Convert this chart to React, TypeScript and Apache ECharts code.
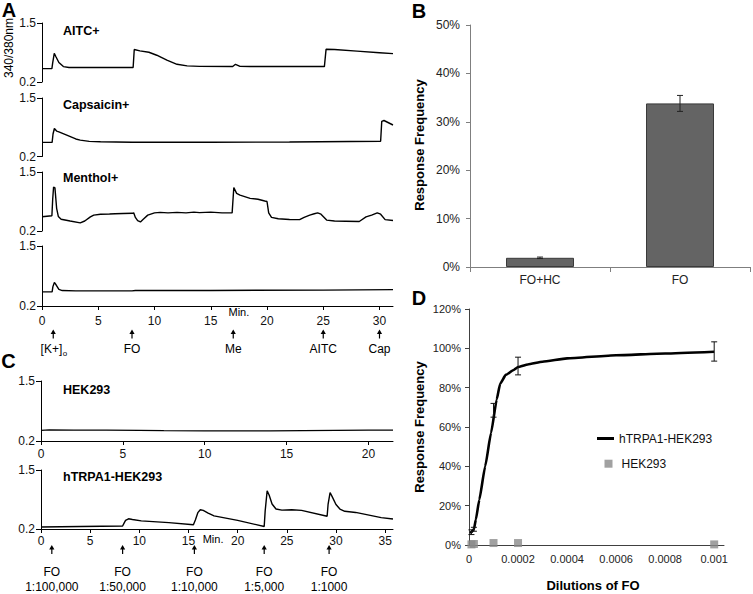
import React, { useEffect, useRef } from 'react';
import * as echarts from 'echarts';

const FONT = '"Liberation Sans", Arial, Helvetica, sans-serif';

// ---------------- Panel A: traces (time in min, 340/380 ratio) ----------------
const aitcTrace: number[][] = [
  [0, 0.495], [0.88, 0.495], [0.95, 0.62], [1.09, 0.83], [1.25, 0.75], [1.5, 0.63], [1.9, 0.54], [2.4, 0.52],
  [8.1, 0.52], [8.2, 0.915], [8.7, 0.885], [9.5, 0.855], [10.2, 0.79], [11.1, 0.68], [12.0, 0.59], [12.9, 0.555],
  [14.0, 0.545], [16.95, 0.54], [17.2, 0.59], [17.6, 0.545], [18.5, 0.54], [25.1, 0.54], [25.25, 0.92],
  [26.0, 0.915], [28.0, 0.88], [30.0, 0.845], [31.2, 0.825],
];
const capsaicinTrace: number[][] = [
  [0, 0.514], [0.9, 0.514], [0.98, 0.7], [1.1, 0.823], [1.3, 0.765], [1.5, 0.748], [2.2, 0.675], [3.0, 0.59],
  [3.4, 0.565], [4.2, 0.535], [5.2, 0.527], [8, 0.517], [15, 0.517], [22, 0.522], [30.1, 0.54], [30.2, 0.98],
  [30.4, 1.0], [31.2, 0.9],
];
const mentholTrace: number[][] = [
  [0, 0.513], [0.88, 0.535], [0.95, 0.9], [1.03, 1.17], [1.15, 1.15], [1.3, 0.7], [1.45, 0.52], [1.7, 0.46],
  [2.5, 0.42], [3.4, 0.38], [3.8, 0.42], [4.3, 0.51], [4.6, 0.55], [5.2, 0.57], [6.0, 0.575], [6.5, 0.58],
  [7.2, 0.585], [8.05, 0.59], [8.15, 0.6], [8.3, 0.5], [8.5, 0.43], [8.75, 0.4], [9.0, 0.46], [9.4, 0.55],
  [10.0, 0.6], [10.5, 0.61], [11.2, 0.6], [12, 0.61], [12.8, 0.6], [13.5, 0.615], [14, 0.605], [15, 0.615],
  [16, 0.6], [16.9, 0.6], [17.05, 1.16], [17.3, 1.03], [17.6, 0.99], [18.5, 0.92], [19.2, 0.9], [19.8, 0.86],
  [20.0, 0.85], [20.15, 0.6], [20.4, 0.5], [21.0, 0.47], [22.0, 0.455], [22.9, 0.45], [23.3, 0.5], [23.8, 0.55],
  [24.2, 0.58], [24.5, 0.6], [24.8, 0.57], [25.3, 0.44], [26, 0.42], [27, 0.415], [28.2, 0.41], [28.8, 0.51],
  [29.3, 0.55], [29.8, 0.6], [30.1, 0.57], [30.5, 0.45], [31.2, 0.43],
];
const nonResponderTrace: number[][] = [
  [0, 0.505], [0.9, 0.505], [0.97, 0.62], [1.1, 0.71], [1.25, 0.66], [1.5, 0.56], [1.8, 0.535], [3, 0.527],
  [8, 0.527], [8.3, 0.535], [15, 0.537], [25, 0.545], [31.2, 0.555],
];
const aTraceNames = ['AITC+', 'Capsaicin+', 'Menthol+'];
const aTimeTicks = [0, 5, 10, 15, 20, 25, 30];
const aStimTimes = [1, 8, 17, 25, 30];
const aStimLabels = ['[K+]', 'FO', 'Me', 'AITC', 'Cap'];

// ---------------- Panel C: traces ----------------
const hek293Trace: number[][] = [
  [0, 0.43], [0.5, 0.44], [2, 0.435], [4, 0.435], [6, 0.43], [7.5, 0.425], [10, 0.42], [12, 0.42],
  [14, 0.42], [16, 0.425], [18, 0.43], [20, 0.435], [21.5, 0.435],
];
const trpa1Trace: number[][] = [
  [0, 0.245], [4, 0.255], [8.3, 0.265], [8.45, 0.33], [8.6, 0.39], [8.9, 0.425], [9.3, 0.41], [10.2, 0.38],
  [13, 0.34], [15.5, 0.295], [15.7, 0.4], [15.95, 0.56], [16.2, 0.625], [16.5, 0.61], [17.0, 0.55], [17.6, 0.49],
  [20, 0.39], [22.7, 0.255], [22.8, 0.6], [23.0, 1.04], [23.2, 0.95], [23.5, 0.75], [23.9, 0.64], [24.5, 0.615],
  [25.5, 0.625], [26.5, 0.61], [29.1, 0.48], [29.2, 0.75], [29.4, 1.0], [29.6, 0.92], [30, 0.74], [30.4, 0.64],
  [30.9, 0.59], [32, 0.565], [34.6, 0.45], [35.8, 0.42],
];
const c1TimeTicks = [0, 5, 10, 15, 20];
const c2TimeTicks = [0, 5, 10, 15, 20, 25, 30, 35];
const cStimTimes = [1.1, 8.3, 15.6, 22.7, 29.3];
const cStimDilutions = ['1:100,000', '1:50,000', '1:10,000', '1:5,000', '1:1000'];

// ---------------- Panel B ----------------
const bCategories = ['FO+HC', 'FO'];
const bValues = [1.9, 33.8];
const bErrors = [0.15, 1.65];

// ---------------- Panel D ----------------
const dDilutions = [0.00001, 0.00002, 0.0001, 0.0002, 0.001];
const dTrpa1Mean = [6.5, 8, 68.5, 91, 98.4];
const dTrpa1Err = [1.2, 1, 3.5, 4.5, 4.9];
const dHekMean = [0.3, 0.5, 1, 1, 0.3];
const dCurveX = [0.000004, 0.00001, 0.00002, 0.000028, 0.000042, 0.000066, 0.00009, 0.000113, 0.000127,
  0.00015, 0.000182, 0.0002, 0.00024, 0.0003, 0.0004, 0.0006, 0.0008, 0.001];
const dCurveY = [6.1, 6.6, 8, 13, 23, 40, 57, 74, 82, 86.5, 89, 90.5, 91.8, 93.2, 94.9, 96.5, 97.4, 98.3];
const dXTicks = [0, 0.0002, 0.0004, 0.0006, 0.0008, 0.001];

const ratioY = (gridIndex: number) => ({
  type: 'value', gridIndex, min: 0.2, max: 1.5,
  axisLine: { show: true, lineStyle: { color: '#000', width: 1 } },
  axisTick: { show: true, length: 5, customValues: [0.2, 1.5], lineStyle: { color: '#000' } },
  axisLabel: { customValues: [0.2, 1.5], formatter: (v: number) => v.toFixed(1), fontSize: 12, fontFamily: FONT, color: '#111', margin: 6 },
  splitLine: { show: false },
});

const timeX = (gridIndex: number, max: number, ticks: number[], show: boolean, margin: number) => ({
  type: 'value', gridIndex, min: 0, max, show,
  axisLine: { show: true, onZero: false, lineStyle: { color: '#000', width: 1 } },
  axisTick: { show: true, length: 4, customValues: ticks, lineStyle: { color: '#000' } },
  axisLabel: { customValues: ticks, fontSize: 12, fontFamily: FONT, color: '#111', margin },
  splitLine: { show: false },
});

const traceSeries = (data: number[][], idx: number) => ({
  type: 'line', xAxisIndex: idx, yAxisIndex: idx, data, symbol: 'none', showSymbol: false,
  lineStyle: { color: '#000', width: 1.4 }, silent: true,
});

const errRender = (color: string, half: number) => (params: any, api: any) => {
  const x = api.value(0);
  const lo = api.coord([x, api.value(1)]);
  const hi = api.coord([x, api.value(2)]);
  const st = { stroke: color, lineWidth: 1 };
  return {
    type: 'group',
    children: [
      { type: 'line', shape: { x1: lo[0], y1: lo[1], x2: hi[0], y2: hi[1] }, style: st },
      { type: 'line', shape: { x1: lo[0] - half, y1: lo[1], x2: lo[0] + half, y2: lo[1] }, style: st },
      { type: 'line', shape: { x1: hi[0] - half, y1: hi[1], x2: hi[0] + half, y2: hi[1] }, style: st },
    ],
  };
};

export default function App() {
  const ref = useRef<HTMLDivElement>(null);
  useEffect(() => {
    if (!ref.current) return;
    const chart = echarts.init(ref.current, undefined, { renderer: 'svg' });
    const grayAxis = '#7f7f7f';
    const option: any = {
      animation: false,
      backgroundColor: '#fff',
      textStyle: { fontFamily: FONT },
      grid: [
        { left: 42, top: 23, width: 351, height: 59 },
        { left: 42, top: 98, width: 351, height: 58.5 },
        { left: 42, top: 172, width: 351, height: 59 },
        { left: 42, top: 246, width: 351, height: 60 },
        { left: 41, top: 381, width: 352, height: 60 },
        { left: 41, top: 470, width: 352, height: 59 },
        { left: 470, top: 25, width: 280, height: 242 },
        { left: 469, top: 309, width: 255, height: 236 },
      ],
      xAxis: [
        timeX(0, 31.2, aTimeTicks, false, 8),
        timeX(1, 31.2, aTimeTicks, false, 8),
        timeX(2, 31.2, aTimeTicks, false, 8),
        timeX(3, 31.2, aTimeTicks, true, 9),
        timeX(4, 21.5, c1TimeTicks, true, 7),
        timeX(5, 35.8, c2TimeTicks, true, 6),
        {
          type: 'category', gridIndex: 6, data: bCategories,
          axisLine: { lineStyle: { color: grayAxis } },
          axisTick: { show: true, alignWithLabel: false, length: 5, lineStyle: { color: grayAxis } },
          axisLabel: { fontSize: 12, fontFamily: FONT, color: '#222', margin: 7 },
        },
        {
          type: 'value', gridIndex: 7, min: 0, max: 0.00104,
          axisLine: { show: true, onZero: false, lineStyle: { color: '#404040' } },
          axisTick: { show: false },
          axisLabel: {
            customValues: dXTicks, fontSize: 11, fontFamily: FONT, color: '#222', margin: 8,
            formatter: (v: number) => (v === 0 ? '0' : String(Number(v.toPrecision(4)))),
          },
          splitLine: { show: false },
        },
      ],
      yAxis: [
        ratioY(0), ratioY(1), ratioY(2), ratioY(3), ratioY(4), ratioY(5),
        {
          type: 'value', gridIndex: 6, min: 0, max: 50, interval: 10,
          axisLine: { show: true, lineStyle: { color: grayAxis } },
          axisTick: { show: true, length: 4, lineStyle: { color: grayAxis } },
          axisLabel: { formatter: '{value}%', fontSize: 12, fontFamily: FONT, color: '#222', margin: 10 },
          splitLine: { show: false },
        },
        {
          type: 'value', gridIndex: 7, min: 0, max: 120, interval: 20,
          axisLine: { show: true, lineStyle: { color: '#404040' } },
          axisTick: { show: true, length: 4, lineStyle: { color: '#404040' } },
          axisLabel: { formatter: '{value}%', fontSize: 11, fontFamily: FONT, color: '#222', margin: 8 },
          splitLine: { show: false },
        },
      ],
      legend: [
        {
          data: [{ name: 'hTRPA1-HEK293', icon: 'rect' }], left: 597, top: 432.5, padding: 0, itemWidth: 17, itemHeight: 3,
          selectedMode: false, itemStyle: { color: '#000' },
          textStyle: { fontSize: 12, fontFamily: FONT, color: '#111' },
        },
        {
          data: [{ name: 'HEK293', icon: 'rect' }], left: 604.5, top: 457.7, padding: 0, itemWidth: 8, itemHeight: 8,
          selectedMode: false, textStyle: { fontSize: 12, fontFamily: FONT, color: '#111', padding: [0, 0, 0, 4] },
        },
      ],
      series: [
        traceSeries(aitcTrace, 0),
        traceSeries(capsaicinTrace, 1),
        traceSeries(mentholTrace, 2),
        traceSeries(nonResponderTrace, 3),
        traceSeries(hek293Trace, 4),
        traceSeries(trpa1Trace, 5),
        {
          type: 'bar', name: 'Response', xAxisIndex: 6, yAxisIndex: 6, data: bValues, barWidth: 68,
          itemStyle: { color: '#646464', borderColor: '#3a3a3a', borderWidth: 1 },
        },
        {
          type: 'custom', xAxisIndex: 6, yAxisIndex: 6,
          data: bValues.map((v, i) => [i, v - bErrors[i], v + bErrors[i]]),
          encode: { x: 0, y: [1, 2] }, renderItem: errRender('#222', 3), z: 5,
        },
        {
          type: 'line', name: 'hTRPA1-HEK293', xAxisIndex: 7, yAxisIndex: 7,
          data: dCurveX.map((x, i) => [x, dCurveY[i]]), symbol: 'none', showSymbol: false,
          smooth: 0.15, smoothMonotone: 'x', itemStyle: { color: '#000' }, lineStyle: { color: '#000', width: 2.6 },
        },
        {
          type: 'custom', xAxisIndex: 7, yAxisIndex: 7,
          data: dDilutions.map((x, i) => [x, dTrpa1Mean[i] - dTrpa1Err[i], dTrpa1Mean[i] + dTrpa1Err[i]]),
          encode: { x: 0, y: [1, 2] }, renderItem: errRender('#111', 3), z: 4,
        },
        {
          type: 'scatter', name: 'HEK293', xAxisIndex: 7, yAxisIndex: 7,
          data: dDilutions.map((x, i) => [x, dHekMean[i]]), symbol: 'rect', symbolSize: 8,
          itemStyle: { color: '#8a8a8a' }, z: 6,
        },
      ],
    };
    chart.setOption(option);

    const g: any[] = [];
    const T = (text: string, x: number, y: number, size: number, o: any = {}) =>
      g.push({
        type: 'text', x, y, rotation: o.rot || 0, silent: true,
        style: {
          text, fontFamily: FONT, fontSize: size, fontWeight: o.bold ? 'bold' : 'normal',
          fill: o.color || '#000', align: o.align || 'center', verticalAlign: o.va || 'middle',
        },
      });
    const arrow = (x: number, top: number, len: number) => {
      g.push({ type: 'line', silent: true, shape: { x1: x, y1: top + 2, x2: x, y2: top + len }, style: { stroke: '#000', lineWidth: 1.2 } });
      g.push({ type: 'polygon', silent: true, shape: { points: [[x - 2.6, top + 4.5], [x, top], [x + 2.6, top + 4.5]] }, style: { fill: '#000' } });
    };
    const px = (axis: number, t: number) => chart.convertToPixel({ xAxisIndex: axis } as any, t) as unknown as number;

    // panel letters
    T('A', 9, 10, 20, { bold: true });
    T('B', 419, 11, 20, { bold: true });
    T('C', 8.5, 361, 20, { bold: true });
    T('D', 419, 298, 20, { bold: true });

    // panel A texts
    T('340/380nm', 9, 48, 12, { rot: Math.PI / 2 });
    const aLabelY = [30.5, 105, 178];
    aTraceNames.forEach((n, i) => T(n, 63, aLabelY[i], 12.5, { bold: true, align: 'left' }));
    T('Min.', px(3, 17.5), 312, 11);
    aStimTimes.forEach((t, i) => {
      const x = px(3, t);
      arrow(x, 329.5, 9);
      if (i === 0) {
        T(aStimLabels[i], x + 9, 349, 12, { align: 'right' });
        T('o', x + 9.5, 353, 8, { align: 'left' });
      } else {
        T(aStimLabels[i], x, 349, 12);
      }
    });

    // panel C texts
    T('HEK293', 63, 390, 12.5, { bold: true, align: 'left' });
    T('hTRPA1-HEK293', 63, 477, 12.5, { bold: true, align: 'left' });
    T('Min.', px(5, 17.5), 539, 11);
    cStimTimes.forEach((t, i) => {
      const x = px(5, t);
      arrow(x, 545, 9);
      T('FO', x, 572, 12);
      T(cStimDilutions[i], x, 587, 12);
    });

    // panel B / D titles
    T('Response Frequency', 419, 145, 13, { bold: true, rot: Math.PI / 2 });
    T('Response Frequency', 419, 427, 13, { bold: true, rot: Math.PI / 2 });
    T('Dilutions of FO', 593, 585, 13, { bold: true });

    chart.setOption({ graphic: g });
    return () => chart.dispose();
  }, []);
  return <div ref={ref} style={{ position: 'absolute', left: 0, top: 0, width: 753, height: 594 }} />;
}
